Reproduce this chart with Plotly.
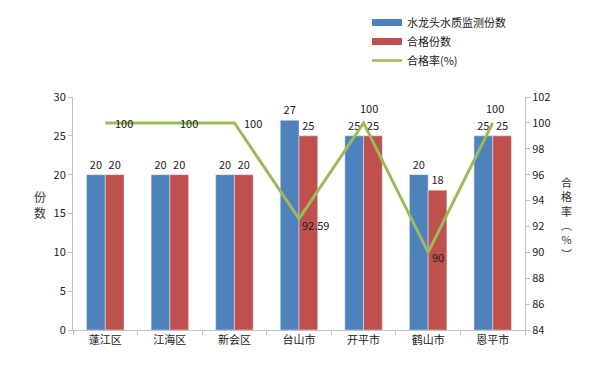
import plotly.graph_objects as go

categories = ["蓬江区", "江海区", "新会区", "台山市", "开平市", "鹤山市", "恩平市"]
monitored = [20, 20, 20, 27, 25, 20, 25]
qualified = [20, 20, 20, 25, 25, 18, 25]
rate = [100, 100, 100, 92.59, 100, 90, 100]
rate_labels = ["100", "100", "100", "92.59", "100", "90", "100"]
# label offsets in pixels (x, y) relative to each line point
label_shift = [(19, 0), (19, 0), (19, 0), (16, -6), (5, 15), (10, -5), (2, 15)]

font = "Noto Sans CJK SC, Microsoft YaHei, sans-serif"
BLUE, RED, GREEN = "#4F81BD", "#C0504D", "#9BBB59"
fig = go.Figure()
fig.add_trace(go.Bar(x=categories, y=monitored, name="水龙头水质监测份数",
                     marker_color=BLUE, text=monitored, textposition="outside",
                     textfont=dict(size=11, color="#222"), cliponaxis=False,
                     showlegend=False))
fig.add_trace(go.Bar(x=categories, y=qualified, name="合格份数",
                     marker_color=RED, text=qualified, textposition="outside",
                     textfont=dict(size=11, color="#222"), cliponaxis=False,
                     showlegend=False))
fig.add_trace(go.Scatter(x=categories, y=rate, name="合格率(%)", yaxis="y2",
                         mode="lines", line=dict(color=GREEN, width=3),
                         cliponaxis=False, showlegend=False))
# legend entries (wide rectangular swatches like the original)
for name, col, w in [("水龙头水质监测份数", BLUE, 7), ("合格份数", RED, 7), ("合格率(%)", GREEN, 2.5)]:
    fig.add_trace(go.Scatter(x=[None], y=[None], name=name, mode="lines",
                             line=dict(color=col, width=w), showlegend=True))

annotations = []
for c, r, t, (dx, dy) in zip(categories, rate, rate_labels, label_shift):
    annotations.append(dict(x=c, y=r, xref="x", yref="y2", text=t, showarrow=False,
                            xshift=dx, yshift=dy, font=dict(size=11, color="#222")))

W, H = 452, 233
annotations.append(dict(text="份<br>数", x=(40 - 73) / W, y=(330 - 204) / H,
                        xref="paper", yref="paper", showarrow=False,
                        xanchor="center", yanchor="middle",
                        font=dict(size=12, color="#333")))
annotations.append(dict(text="合<br>格<br>率<br>︵<br>%<br>︶", x=(566 - 73) / W,
                        y=(330 - 218) / H, xref="paper", yref="paper", showarrow=False,
                        xanchor="center", yanchor="middle",
                        font=dict(size=11, color="#333")))

fig.update_layout(
    width=600, height=379,
    margin=dict(l=65, r=83, t=89, b=57, autoexpand=False),
    paper_bgcolor="white", plot_bgcolor="white",
    font=dict(family=font, size=11, color="#333"),
    barmode="group", bargap=0.42, bargroupgap=0,
    showlegend=True,
    legend=dict(x=(367 - 73) / W, y=(330 - 8) / H, xanchor="left", yanchor="top",
                font=dict(size=11, color="#222"), tracegroupgap=0,
                bgcolor="rgba(0,0,0,0)"),
    xaxis=dict(showline=True, linecolor="#BFBFBF", ticks="outside",
               tickson="boundaries", ticklen=4, tickcolor="#BFBFBF",
               tickfont=dict(size=11, color="#222"), showgrid=False),
    yaxis=dict(range=[0, 30], dtick=5, showline=True, linecolor="#BFBFBF",
               ticks="outside", ticklen=4, tickcolor="#BFBFBF", showgrid=False,
               zeroline=False, tickfont=dict(size=11, color="#222")),
    yaxis2=dict(range=[84, 102], dtick=2, overlaying="y", side="right",
                showline=True, linecolor="#BFBFBF", ticks="outside", ticklen=4,
                tickcolor="#BFBFBF", showgrid=False, zeroline=False,
                tickfont=dict(size=11, color="#222")),
    annotations=annotations,
)

fig.write_html("out.html")
